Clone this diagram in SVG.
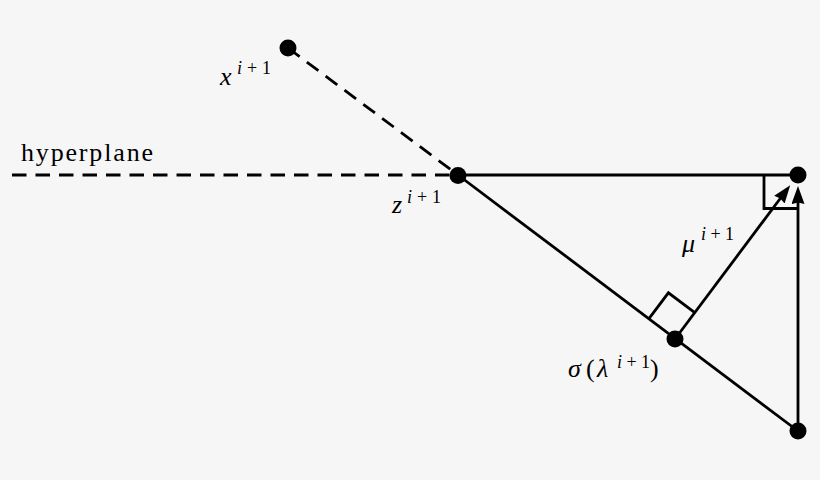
<svg xmlns="http://www.w3.org/2000/svg" width="820" height="480" viewBox="0 0 820 480">
<style>
.ln{stroke:#000;stroke-width:2.8;fill:none}
.dash{stroke-dasharray:14.5 9}
.dot{fill:#000}
.t{font-family:'Liberation Serif','DejaVu Serif','Times New Roman',serif;fill:#000}
.m{font-size:26px;font-style:italic}
.r{font-size:26px}
.s{font-size:18px}
</style>
<defs>
<marker id="ah" markerUnits="userSpaceOnUse" markerWidth="19" markerHeight="13" viewBox="0 0 19 13" refX="2" refY="6.5" orient="auto">
<path d="M0,0 L18,6.5 L0,13 L1.5,6.5 z" fill="#000"/>
</marker>
</defs>
<rect width="820" height="480" fill="#f6f6f6"/>
<g id="connectors">
<line class="ln dash" x1="12" y1="175" x2="458" y2="175"/>
<line class="ln dash" x1="288" y1="48" x2="458" y2="175"/>
<line class="ln" x1="458" y1="175" x2="798" y2="175"/>
<line class="ln" x1="458" y1="175" x2="798" y2="431"/>
<line class="ln" x1="675" y1="339" x2="780.6" y2="198" marker-end="url(#ah)"/>
<line class="ln" x1="798" y1="431" x2="798" y2="202" marker-end="url(#ah)"/>
<polyline class="ln" points="764,175 764,208.5 798,208.5"/>
<polyline class="ln" points="648.6,319.2 668.4,292.8 694.8,312.6"/>
</g>
<g id="hyperplane-label">
<text class="t r" x="21" y="161" textLength="132" lengthAdjust="spacing">hyperplane</text>
</g>
<g id="node-x">
<circle class="dot" cx="288" cy="48" r="8.5"/>
<text class="t m" x="220" y="85">x</text>
<text class="t s" x="237" y="74" textLength="34" lengthAdjust="spacing"><tspan font-style="italic">i</tspan>+1</text>
</g>
<g id="node-z">
<circle class="dot" cx="458" cy="175.5" r="8.5"/>
<text class="t m" x="392" y="213">z</text>
<text class="t s" x="407" y="203" textLength="34" lengthAdjust="spacing"><tspan font-style="italic">i</tspan>+1</text>
</g>
<g id="node-corner">
<circle class="dot" cx="798" cy="175" r="8.5"/>
</g>
<g id="node-sigma">
<circle class="dot" cx="675" cy="339" r="8.5"/>
<text class="t m" x="568" y="377">σ</text>
<text class="t r" x="586" y="377">(</text>
<text class="t m" x="597" y="377">λ</text>
<text class="t s" x="617" y="368" textLength="33" lengthAdjust="spacing"><tspan font-style="italic">i</tspan>+1</text>
<text class="t r" x="650" y="377">)</text>
</g>
<g id="node-bottom">
<circle class="dot" cx="798" cy="431" r="8.5"/>
</g>
<g id="mu-label">
<text class="t m" x="682" y="252">μ</text>
<text class="t s" x="701" y="240" textLength="33" lengthAdjust="spacing"><tspan font-style="italic">i</tspan>+1</text>
</g>
</svg>
